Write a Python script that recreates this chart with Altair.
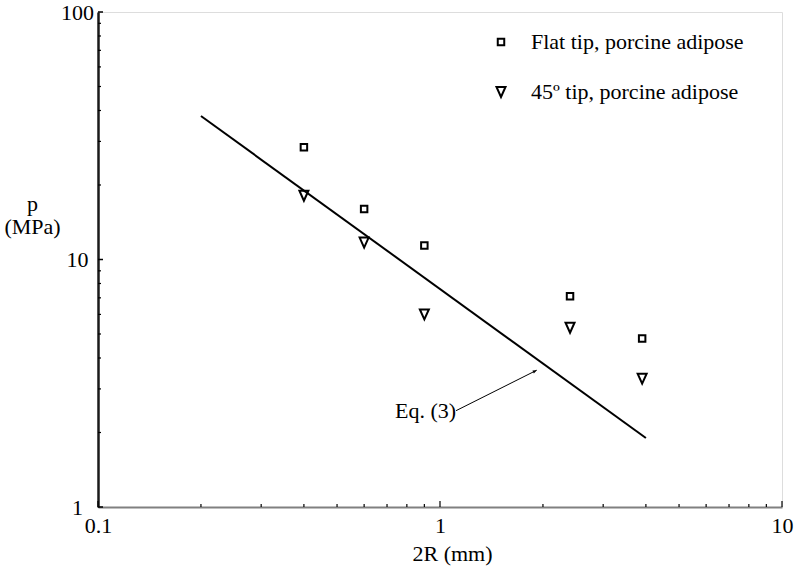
import altair as alt
import pandas as pd

# ---- data ----
diam = [0.4, 0.6, 0.9, 2.4, 3.9]
flat_tip = [28.4, 16.0, 11.4, 7.1, 4.8]
tip_45 = [18.1, 11.7, 6.0, 5.3, 3.3]
series_names = ["Flat tip, porcine adipose", "45º tip, porcine adipose"]

eq_x = [0.2, 4.0]
eq_y = [38.0, 1.9]

arrow_x = [1.114, 1.918]
arrow_y = [2.45, 3.57]
arrow_label = "Eq. (3)"

x_tick_labels = [0.1, 1, 10]
y_tick_labels = [1, 10, 100]
x_minor = [0.2, 0.3, 0.4, 0.5, 0.6, 0.7, 0.8, 0.9, 2, 3, 4, 5, 6, 7, 8, 9]
y_minor = [2, 3, 4, 5, 6, 7, 8, 9, 20, 30, 40, 50, 60, 70, 80, 90]

FONT = "Liberation Serif"
FS = 22
W, H = 684, 495

pts = pd.DataFrame({
    "d": diam * 2,
    "p": flat_tip + tip_45,
    "series": [series_names[0]] * len(diam) + [series_names[1]] * len(diam),
})
eq_df = pd.DataFrame({"d": eq_x, "p": eq_y})
arrow_df = pd.DataFrame({"d": arrow_x, "p": arrow_y})
arrow_tip = pd.DataFrame({"d": arrow_x[1:], "p": arrow_y[1:]})
label_df = pd.DataFrame({"d": arrow_x[:1], "p": arrow_y[:1], "t": [arrow_label]})

xs = alt.Scale(type="log", domain=[0.1, 10], nice=False)
ys = alt.Scale(type="log", domain=[1, 100], nice=False)

X_AXIS = alt.Axis(
    values=x_tick_labels, format="~g", title="2R (mm)",
    titleFont=FONT, titleFontSize=FS, titleFontWeight="normal", titleColor="black",
    titleX=354, titleY=53, titleAlign="center", titleBaseline="alphabetic",
    labelFont=FONT, labelFontSize=FS, labelColor="black", labelPadding=8,
    labelFlush=False, labelOverlap=False,
    ticks=False, grid=False, domainColor="#808080", domainWidth=2,
)
Y_AXIS = alt.Axis(
    values=y_tick_labels, format="~g", title=["p", "(MPa)"],
    titleFont=FONT, titleFontSize=FS, titleFontWeight="normal", titleColor="black",
    titleAngle=0, titleX=-66, titleY=198, titleAlign="center", titleBaseline="alphabetic",
    titleLineHeight=23,
    labelFont=FONT, labelFontSize=FS, labelColor="black", labelPadding=21,
    labelAlign="center", labelBaseline="middle",
    labelFlush=False, labelOverlap=False,
    ticks=False, grid=False, domainColor="#1a1a1a", domainWidth=2.5,
)

def xe(field="d"):
    return alt.X(f"{field}:Q", scale=xs, axis=X_AXIS)

def ye(field="p"):
    return alt.Y(f"{field}:Q", scale=ys, axis=Y_AXIS)

tri_path = "M-0.9,-1L0.9,-1L0,1Z"

LEG = dict(title=None, orient="none", legendX=392, legendY=19,
           labelFont=FONT, labelFontSize=FS, labelColor="black", labelLimit=0,
           labelOffset=19, rowPadding=28,
           symbolStrokeColor="black", symbolStrokeWidth=2, symbolFillColor="white")

points = alt.Chart(pts).mark_point(filled=False, strokeWidth=2, color="black", opacity=1).encode(
    x=xe(), y=ye(),
    shape=alt.Shape("series:N", sort=series_names,
                    scale=alt.Scale(domain=series_names, range=["square", tri_path]),
                    legend=alt.Legend(**LEG)),
    size=alt.Size("series:N", sort=series_names,
                  scale=alt.Scale(domain=series_names, range=[42, 100]),
                  legend=alt.Legend(**LEG)),
)

eq_line = alt.Chart(eq_df).mark_line(color="black", strokeWidth=2).encode(x=xe(), y=ye())

arrow_line = alt.Chart(arrow_df).mark_line(color="black", strokeWidth=1).encode(x=xe(), y=ye())
arrow_head = alt.Chart(arrow_tip).mark_point(
    shape="M0,0L-0.4,1L0.4,1Z", filled=True, color="black", size=64, angle=63.5, opacity=1
).encode(x=xe(), y=ye())
eq_text = alt.Chart(label_df).mark_text(
    font=FONT, fontSize=FS, color="black", align="right", baseline="alphabetic", dx=0, dy=7
).encode(x=xe(), y=ye(), text="t:N")

# inward axis ticks
ymaj = alt.Chart(pd.DataFrame({"p": y_tick_labels})).mark_rule(color="black", strokeWidth=1.5).encode(
    y=ye(), x=alt.value(0), x2=alt.value(5))
ymin = alt.Chart(pd.DataFrame({"p": y_minor})).mark_rule(color="black", strokeWidth=1.2).encode(
    y=ye(), x=alt.value(0), x2=alt.value(3))
xmaj = alt.Chart(pd.DataFrame({"d": x_tick_labels})).mark_rule(color="black", strokeWidth=1.2).encode(
    x=xe(), y=alt.value(H), y2=alt.value(H - 6))
xmin = alt.Chart(pd.DataFrame({"d": x_minor})).mark_rule(color="black", strokeWidth=1.2).encode(
    x=xe(), y=alt.value(H), y2=alt.value(H - 3))

chart = alt.layer(eq_line, arrow_line, arrow_head, eq_text, ymaj, ymin, xmaj, xmin, points).properties(
    width=W, height=H,
    autosize=alt.AutoSizeParams(type="none"),
    padding={"left": 98, "top": 12, "right": 13, "bottom": 63},
    background="white",
).configure_view(stroke=None).configure(font=FONT)

chart.save("out.html", embed_options={"renderer": "svg", "actions": False})
